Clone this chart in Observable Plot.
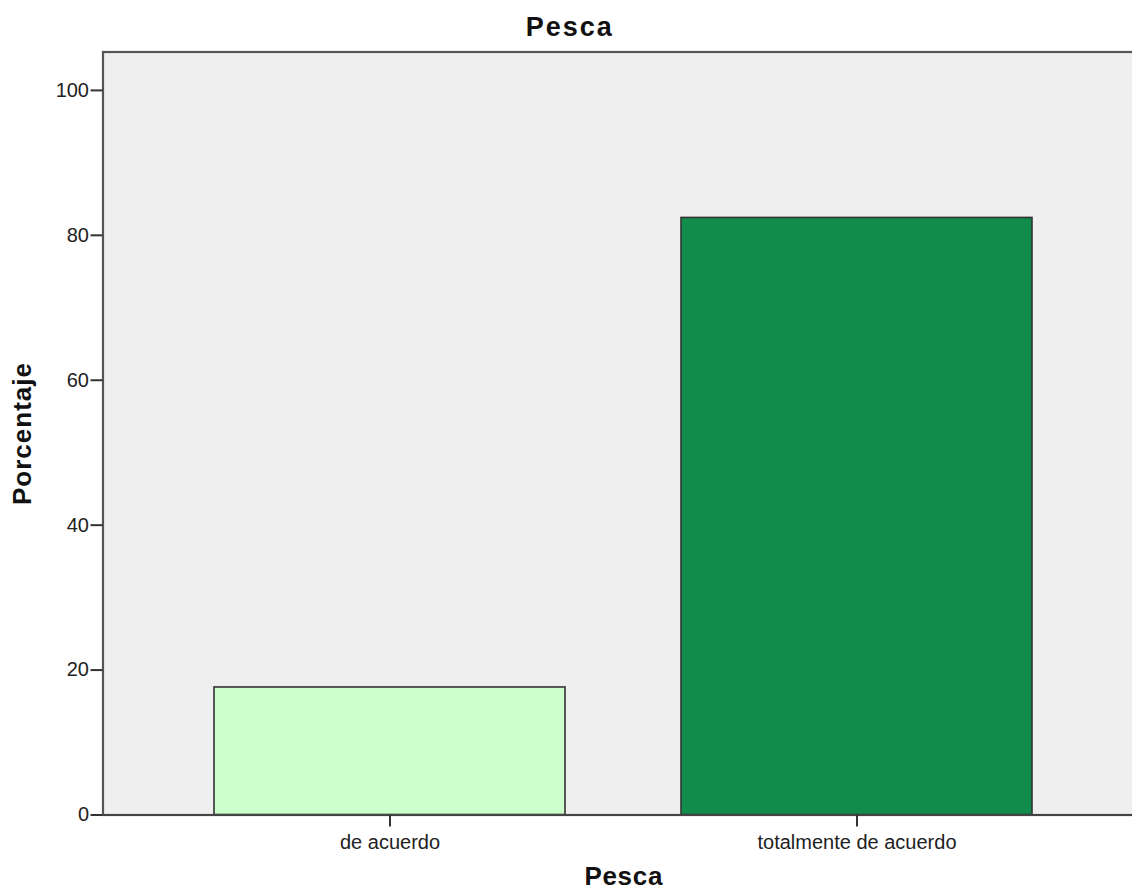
<!DOCTYPE html>
<html>
<head>
<meta charset="utf-8">
<script src="https://cdn.jsdelivr.net/npm/d3@7"></script>
<script src="https://cdn.jsdelivr.net/npm/@observablehq/plot@0.6"></script>
<style>
  html, body { margin: 0; padding: 0; background: #fff; overflow: hidden; }
  #chart { width: 1132px; height: 895px; overflow: hidden; }
  #chart svg { display: block; max-width: none !important; width: 1160px !important; height: 895px !important; }
</style>
</head>
<body>
<div id="chart"></div>
<script>
const categories = ["de acuerdo", "totalmente de acuerdo"];
const percentages = [17.6, 82.4];
const barColors = ["#ccffcc", "#118c4a"];
const yTicks = [0, 20, 40, 60, 80, 100];
const titleText = "Pesca";
const xLabelText = "Pesca";
const yLabelText = "Porcentaje";

const data = categories.map((c, i) => ({cat: c, pct: percentages[i], color: barColors[i]}));

const font = "'Liberation Sans', Arial, sans-serif";

const chart = Plot.plot({
  width: 1160,
  height: 895,
  marginTop: 51.5,
  marginBottom: 80.5,
  marginLeft: 102.5,
  marginRight: 16,
  style: {fontFamily: font, color: "#222", background: "#fff", maxWidth: "none"},
  x: {domain: categories, paddingInner: 0.248, paddingOuter: 0.237, align: 0.5},
  y: {domain: [0, 105.3]},
  color: {type: "identity"},
  marks: [
    Plot.frame({fill: "#efefef", stroke: "#555", strokeWidth: 2.2}),
    Plot.barY(data, {x: "cat", y: "pct", fill: "color", stroke: "#333", strokeWidth: 1.6}),
    Plot.ruleY([0], {stroke: "#444", strokeWidth: 2.2}),
    Plot.axisY({ticks: yTicks, tickSize: 12, tickPadding: 2, fontSize: 20, label: null, stroke: "#333", strokeWidth: 2}),
    Plot.axisX({tickSize: 12, tickPadding: 8, fontSize: 20, label: null, stroke: "#333", strokeWidth: 2}),
    Plot.text([titleText], {text: d => d, frameAnchor: "top", lineAnchor: "middle", textAnchor: "middle", dx: -54, dy: -24.5, fontSize: 27, fontWeight: "bold", fill: "#111", className: "ttl"}),
    Plot.text([xLabelText], {text: d => d, frameAnchor: "bottom", lineAnchor: "middle", textAnchor: "middle", dy: 62, fontSize: 26, fontWeight: "bold", fill: "#111", className: "xl"}),
    Plot.text([yLabelText], {text: d => d, frameAnchor: "left", lineAnchor: "middle", textAnchor: "middle", dx: -80, rotate: -90, fontSize: 26, fontWeight: "bold", fill: "#111", className: "yl"})
  ]
});

document.getElementById("chart").appendChild(chart);
d3.select(chart).selectAll(".ttl text").style("letter-spacing", "2px");
d3.select(chart).selectAll(".xl text").style("letter-spacing", "0.7px");
d3.select(chart).selectAll(".yl text").style("letter-spacing", "1px");
</script>
</body>
</html>
